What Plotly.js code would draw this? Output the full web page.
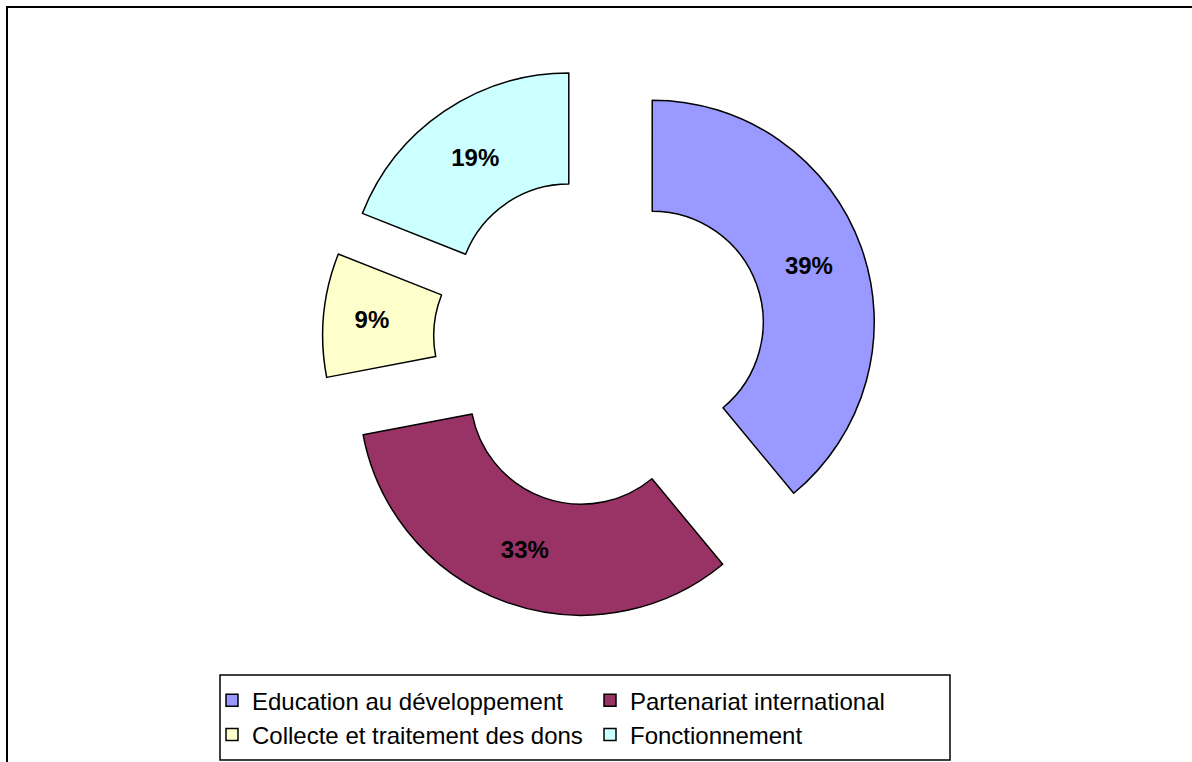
<!DOCTYPE html>
<html>
<head>
<meta charset="utf-8">
<script src="https://cdn.plot.ly/plotly-3.0.1.min.js"></script>
<style>
  html, body { margin: 0; padding: 0; background: #ffffff; }
  #wrap { position: relative; width: 1192px; height: 762px; overflow: hidden; }
  #chart { position: absolute; left: 0; top: 0; width: 1192px; height: 762px; }
  #frame { position: absolute; left: 6px; top: 6px; width: 1200px; height: 800px;
           border-left: 2px solid #000; border-top: 2px solid #000; pointer-events: none; }
</style>
</head>
<body>
<div id="wrap">
  <div id="chart"></div>
  <div id="frame"></div>
</div>
<script>
// ---- data ----
const categories = ["Education au développement", "Partenariat international",
                    "Collecte et traitement des dons", "Fonctionnement"];
const shares = [39, 33, 9, 19];
const sliceColors = ["#9999FF", "#993366", "#FFFFCC", "#CCFFFF"];

const trace = {
  type: "pie",
  labels: categories,
  values: shares,
  sort: false,
  direction: "clockwise",
  rotation: 0,
  hole: 0.5,
  pull: [0.25, 0.25, 0.25, 0.25],
  marker: { colors: sliceColors, line: { color: "#000000", width: 1.5 } },
  texttemplate: "%{percent}",
  textposition: "inside",
  insidetextorientation: "horizontal",
  insidetextfont: { family: "Liberation Sans, Arial, sans-serif", size: 24, color: "#000000", weight: "bold" },
  domain: { x: [0, 1], y: [0.1883, 0.9167] },
  hoverinfo: "label+percent"
};

const layout = {
  width: 1192,
  height: 762,
  margin: { l: 200, r: 192, t: 0, b: 0, autoexpand: false },
  paper_bgcolor: "#ffffff",
  plot_bgcolor: "#ffffff",
  showlegend: true,
  legend: {
    orientation: "h",
    x: 0.015, xanchor: "left",
    y: 0.110, yanchor: "top",
    entrywidth: 333,
    entrywidthmode: "pixels",
    font: { family: "Liberation Sans, Arial, sans-serif", size: 24, color: "#000000" },
    bgcolor: "rgba(0,0,0,0)",
    borderwidth: 0,
    traceorder: "normal"
  },
  shapes: [{
    type: "rect", xref: "paper", yref: "paper",
    x0: 0.025, x1: 0.9375, y0: 0.0026, y1: 0.1142,
    line: { color: "#000000", width: 1.5 }, fillcolor: "rgba(0,0,0,0)", layer: "below"
  }]
};

Plotly.newPlot("chart", [trace], layout, { displayModeBar: false, staticPlot: true });
</script>
</body>
</html>
